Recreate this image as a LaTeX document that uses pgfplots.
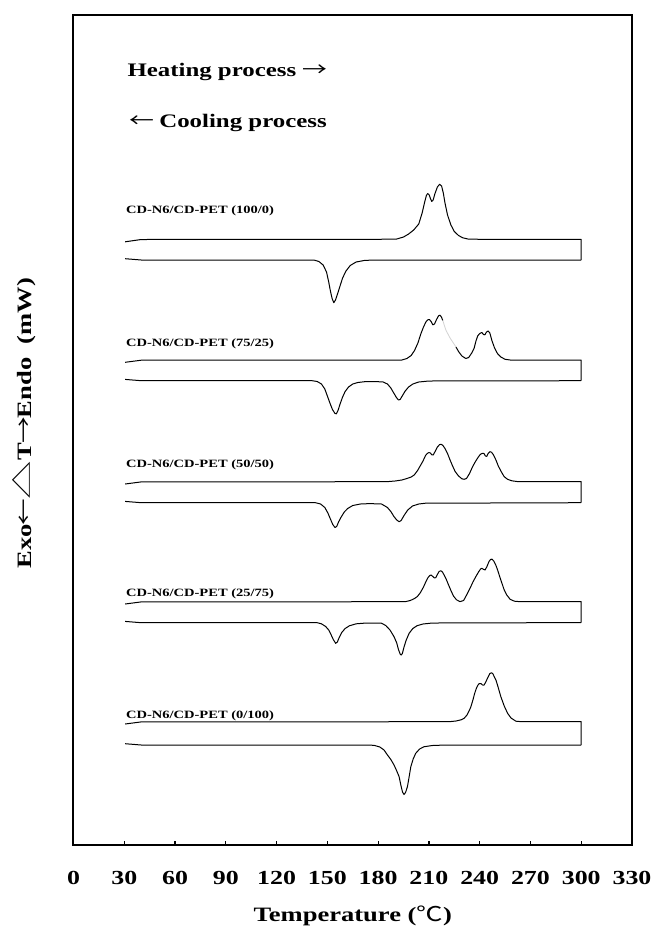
\documentclass[border=0pt]{standalone}
\usepackage{graphicx}
\usepackage{fontspec}
\setmainfont{Liberation Serif}[FakeStretch=1.3]
\newfontfamily\cjk{Noto Sans CJK SC}[FakeStretch=1.3]
\usepackage{pgfplots}
\pgfplotsset{compat=1.18}

% DSC traces: x = temperature (C), y = signal offset (stacked, plotted downward)
\newcommand{\samplefont}{\fontsize{11.2}{12}\selectfont\bfseries}
\newcommand{\notefont}{\fontsize{19.2}{20}\selectfont\bfseries}
\pgfplotsset{trace/.style={black, solid, line width=1bp, line join=round, mark=none}}

\begin{document}
\begin{tikzpicture}
\begin{axis}[
  scale only axis, width=558.5bp, height=830bp,
  xmin=0, xmax=330, ymin=15, ymax=845, y dir=reverse,
  axis line style={line width=2bp},
  xtick={0,30,...,330},
  xticklabels={0,30,60,90,120,150,180,210,240,270,300,330},
  xtick pos=bottom, tick align=inside, major tick length=4.5bp,
  tick style={line width=1.2bp, black},
  ytick=\empty,
  xticklabel style={font=\fontsize{20}{20}\selectfont\bfseries, anchor=base, yshift=-39.5bp},
  xlabel={Temperature ({\mdseries\cjk ℃})},
  xlabel style={at={(axis description cs:0.5,0)}, anchor=base, yshift=-76bp,
                font=\fontsize{20.5}{21}\selectfont\bfseries},
  ylabel={Exo{\mdseries\cjk\kern-0.05em←\kern-0.05em}\raisebox{0.5bp}{\scalebox{1.35}[1]{\mdseries\fontsize{22}{22}\selectfont\cjk △}}\kern0.05em T{\mdseries\cjk\kern-0.05em→\kern-0.05em}Endo\ \ (mW)},
  ylabel style={at={(axis description cs:-0.0886,0.508)}, anchor=center,
                font=\fontsize{20.5}{21}\selectfont\bfseries},
  clip=false,
]

% ---- CD-N6/CD-PET (100/0) ----
\addplot[trace] coordinates {(30.5,241.8) (40,239.5) (180,239.3) (191,239) (195,237) (198,234)
 (201,230) (204,224) (206,213) (207.5,202) (208.5,195.5) (209.3,193.5) (210.2,195)
 (211,199) (211.7,201.5) (212.5,200) (213.5,194) (215,187) (216.3,184.3) (217.5,186)
 (218.5,193) (219.5,203) (221,215) (223,225) (225,231.5) (227.5,235.5) (230,237.8)
 (233,239) (240,239.3) (300,239.3) (300,260)};
\addplot[trace] coordinates {(30.5,258.7) (40,260) (142,260) (145,261.5) (147.5,265) (149.5,272)
 (150.8,282) (151.8,291) (152.8,298.5) (153.8,302.7) (154.8,300) (156,294) (157.3,287)
 (159,278) (161,271) (163.5,265.5) (167,262) (172,260.4) (178,260) (300,260)};

% ---- CD-N6/CD-PET (75/25) ----
\addplot[trace] coordinates {(30.5,362.3) (40,360.2) (194,360) (197,358.5) (199.5,355.5)
 (201.5,350.5) (203.5,343) (205.2,334) (206.8,327) (208.2,322) (209.3,319.8) (210.3,319.5)
 (211.3,321.5) (212.3,324.8) (213.3,324) (214.5,319.5) (215.7,315.8) (216.6,315.2)
 (217.4,317) (218.2,320.5)};
\addplot[trace, gray!35, line width=0.8bp] coordinates {(218.2,320.5) (220,330) (222.5,338) (226,347)};
\addplot[trace] coordinates {(226,347) (227.5,351.5) (229.5,356) (231.8,358.5) (233.5,357.5)
 (235.3,353) (236.7,348.3) (237.8,341) (238.8,336) (240,333.5) (241.3,332.5) (242.3,334.6)
 (243.1,334.8) (244,332) (245,331) (246,333) (247.3,341) (248.8,348) (250.5,353.5)
 (252.5,357) (255,359.3) (258,360) (300,360) (300,380.7)};
\addplot[trace] coordinates {(30.5,379.4) (40,380.7) (141,380.7) (144,381.5) (146.5,384)
 (148.5,389) (150,396) (151.5,403) (153,409.5) (154.5,413.5) (155.3,413.8) (156.3,410.5)
 (157.5,404) (159,397) (160.5,391.5) (162.5,387) (165,384) (168,382.5) (172,381.7)
 (178,381.5) (183,382) (185.5,384) (187.5,388) (189.4,393.5) (190.8,397.5) (192,400)
 (193,399.5) (194.4,395.5) (196,391) (198,387) (200.5,384) (204,382) (210,381) (300,380.7)};

% ---- CD-N6/CD-PET (50/50) ----
\addplot[trace] coordinates {(30.5,484) (40,481.9) (185,481.7) (190,481) (194,480) (197,478.5)
 (199.5,477) (201.3,475) (203.3,470.5) (205,465.5) (206.5,461) (208,455.5) (209,453.5)
 (210,452.5) (210.9,453) (211.7,454.8) (212.5,455) (213.5,452) (215,447) (216.3,444.6)
 (217.3,444.3) (218.3,445.5) (219.5,448.5) (221,453.5) (222.5,460) (224,466) (225.5,471.5)
 (227.5,476) (229.5,478.8) (230.8,479.3) (232.2,478.5) (234,473.5) (235.8,466.7)
 (237.5,461.5) (239,457.5) (240.3,454.5) (241.5,453.3) (242.5,453.5) (243.4,456)
 (244.2,456.3) (245,453.5) (246,451.7) (247,452.2) (248,454.5) (249.6,460) (251,466)
 (252.5,471) (254.5,476.7) (256.5,479.3) (259,480.8) (262,481.5) (300,481.7) (300,502.7)};
\addplot[trace] coordinates {(30.5,501.4) (40,502.7) (143,502.7) (146,504) (148.5,507.5)
 (150.3,513) (151.8,519) (153.2,524.5) (154.5,527.5) (155.5,526.5) (156.6,522) (158,517.5)
 (160,512) (162,508.5) (165,505.5) (169.5,504) (175,503.6) (182,504) (185.5,507.5)
 (187.5,511.5) (189.4,516.7) (191,520) (192.4,521.7) (193.6,520.5) (195.3,515.5)
 (197.5,510) (200.3,506) (204,504) (208,503.2) (300,502.7)};

% ---- CD-N6/CD-PET (25/75) ----
\addplot[trace] coordinates {(30.5,604) (40,601.9) (196,601.7) (199,600.5) (201.5,598.5)
 (203.2,596.5) (205,592.5) (206.8,587) (208.2,581.7) (209.5,577.5) (210.5,575.5)
 (211.3,575) (212.3,576.5) (213.3,578) (214.1,577.6) (215,574.5) (216,571.5) (217,570.7)
 (217.9,571.8) (219,575) (220,578.3) (221.5,584.5) (223,590.5) (224.5,596) (226.3,599.8)
 (228.4,601.6) (230.5,600.5) (232.8,593.3) (234.5,587.5) (236,582) (237.7,576.7)
 (239.3,572) (240.5,569) (241.3,568.3) (242.2,569.3) (243.2,570) (244.3,566.5)
 (245.5,561.5) (246.5,559.3) (247.3,559.2) (248.3,561) (249.5,565) (250.6,570) (252,577.5)
 (253.3,584) (254.5,590) (256,595) (258,599.3) (260.5,601.2) (264,601.7) (300,601.7)
 (300,622.7)};
\addplot[trace] coordinates {(30.5,621.4) (40,622.7) (144,622.7) (146.5,623.8) (149,626.5)
 (150.8,630) (152,634) (153.5,639.5) (154.9,643.3) (155.9,642) (157,637.5) (158.5,632.5)
 (160.5,628.5) (163,625.8) (167,623.8) (173,623) (182,623.2) (184.5,625.5) (187,630)
 (189.4,636.7) (191,643) (192,649.5) (193,654) (193.6,655) (194.3,653.5) (195.3,647)
 (196.5,640.5) (198.3,633.3) (200.5,628.5) (203,625.7) (206.5,624) (211,623.2)
 (220,622.8) (300,622.7)};

% ---- CD-N6/CD-PET (0/100) ----
\addplot[trace] coordinates {(30.5,724) (40,721.9) (222,721.7) (226,721) (229,719.8) (230.8,718.3)
 (232.5,715) (234,710) (234.8,706.7) (236,700) (237,693.5) (238,688.5) (239,685)
 (239.8,683.5) (240.7,683.5) (241.7,685) (242.6,685) (243.6,682) (244.8,677.5) (246,673.5)
 (247,672.7) (247.8,673.8) (248.7,677) (249.6,680) (250.6,685.5) (252.5,696.7) (254.5,706)
 (256.5,713.3) (258.5,718) (261.4,721.2) (265,721.7) (300,721.7) (300,745)};
\addplot[trace] coordinates {(30.5,743.7) (40,745) (175,745) (178,745.5) (181,747) (183.5,750)
 (185.5,755) (187.5,759.5) (189.4,765) (191,771) (192.4,776.7) (193.4,785) (194.4,792)
 (195.3,794.5) (196.2,792.5) (197.3,786.7) (198.3,777) (199.3,766.7) (200.7,759)
 (202.2,753.3) (204.5,749) (207.2,746.7) (212,745.5) (220,745) (300,745)};

% sample names
\node[anchor=base west, inner sep=0, font=\samplefont] at (axis cs:31,213.3) {CD-N6/CD-PET (100/0)};
\node[anchor=base west, inner sep=0, font=\samplefont] at (axis cs:31,346.7) {CD-N6/CD-PET (75/25)};
\node[anchor=base west, inner sep=0, font=\samplefont] at (axis cs:31,467.7) {CD-N6/CD-PET (50/50)};
\node[anchor=base west, inner sep=0, font=\samplefont] at (axis cs:31,596.7) {CD-N6/CD-PET (25/75)};
\node[anchor=base west, inner sep=0, font=\samplefont] at (axis cs:31,718.3) {CD-N6/CD-PET (0/100)};

% direction notes
\node[anchor=base west, inner sep=0, font=\notefont] at (axis cs:31.8,76) {Heating process {\mdseries\cjk →}};
\node[anchor=base west, inner sep=0, font=\notefont] at (axis cs:32.8,127.5) {{\mdseries\cjk ←}\kern-0.05em{} Cooling process};
\end{axis}
\path ([xshift=-73.5bp,yshift=-85bp]current axis.south west)
  rectangle ([xshift=18bp,yshift=15bp]current axis.north east);
\end{tikzpicture}
\end{document}
